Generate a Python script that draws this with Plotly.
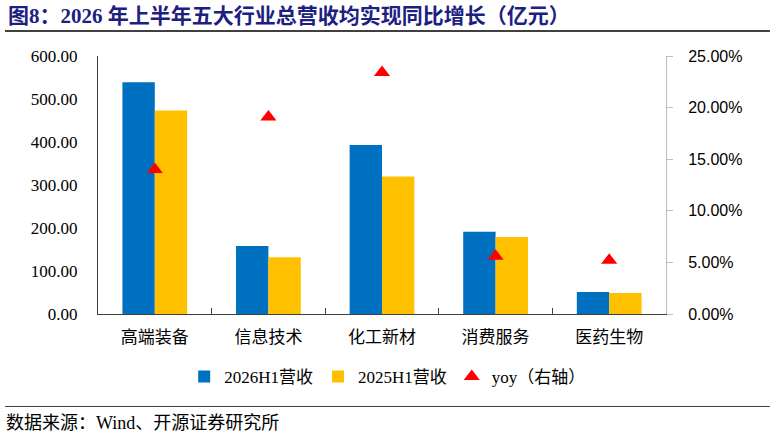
import plotly.graph_objects as go

categories = ["高端装备", "信息技术", "化工新材", "消费服务", "医药生物"]
rev_2026h1 = [539, 158, 393, 191, 51]
rev_2025h1 = [473, 132, 320, 179, 49]
yoy = [0.140, 0.191, 0.234, 0.056, 0.052]

serif = "Liberation Serif, Noto Sans CJK SC, serif"
sans = "Liberation Sans, Arial, sans-serif"

fig = go.Figure()
fig.add_trace(go.Bar(x=categories, y=rev_2026h1, name="2026H1营收",
                     marker=dict(color="#0070C0", line=dict(width=0))))
fig.add_trace(go.Bar(x=categories, y=rev_2025h1, name="2025H1营收",
                     marker=dict(color="#FFC000", line=dict(width=0))))
fig.add_trace(go.Scatter(x=categories, y=yoy, name="yoy（右轴）", mode="markers",
                         yaxis="y2",
                         marker=dict(symbol="triangle-up", size=14, color="#FF0000")))

fig.update_layout(
    width=774, height=437,
    paper_bgcolor="white", plot_bgcolor="white",
    margin=dict(l=98, r=108, t=56, b=123),
    barmode="group", bargap=0.43, bargroupgap=0,
    font=dict(family=serif, size=15, color="#000000"),
    title=dict(text="<b>图8：2026 年上半年五大行业总营收均实现同比增长（亿元）</b>",
               x=8 / 774, xref="container", xanchor="left",
               y=1 - 16 / 437, yref="container", yanchor="middle",
               font=dict(family=serif, size=21, color="#1C2180")),
    xaxis=dict(showline=True, linecolor="#404040", linewidth=1,
               ticks="inside", tickson="boundaries", ticklen=6, tickcolor="#404040",
               ticklabelstandoff=8,
               tickfont=dict(family=serif, size=17, color="#000000")),
    yaxis=dict(range=[0, 600], dtick=100, tickformat=".2f", showgrid=False,
               showline=True, linecolor="#404040", linewidth=1, zeroline=False,
               ticks="", ticklabelstandoff=16,
               tickfont=dict(family=serif, size=17, color="#000000")),
    yaxis2=dict(range=[0, 0.25], dtick=0.05, tickformat=".2%", overlaying="y",
                side="right", showgrid=False, showline=True, linecolor="#BFBFBF",
                linewidth=1, zeroline=False, ticks="outside", ticklen=6,
                tickcolor="#BFBFBF", ticklabelstandoff=12,
                tickfont=dict(family=sans, size=16, color="#000000")),
    legend=dict(orientation="h", x=0.51, xanchor="center", y=-0.244,
                yanchor="middle", font=dict(family=serif, size=17),
                itemwidth=30, bgcolor="rgba(0,0,0,0)"),
    showlegend=True,
)

# rules under the title and above the source line
fig.add_shape(type="line", xref="paper", yref="paper",
              x0=-0.1637, x1=1.183, y0=1.097, y1=1.097,
              line=dict(color="#000000", width=1.5))
fig.add_shape(type="line", xref="paper", yref="paper",
              x0=-0.1637, x1=1.183, y0=-0.3585, y1=-0.3585,
              line=dict(color="#404040", width=1))

fig.add_annotation(text="数据来源：Wind、开源证券研究所", xref="paper", yref="paper",
                   x=-0.165, y=-0.4225, xanchor="left", yanchor="middle",
                   showarrow=False, font=dict(family=serif, size=18, color="#000000"))

fig.write_html("out.html", config={"displayModeBar": False},
               post_script="document.body.style.margin='0';")
